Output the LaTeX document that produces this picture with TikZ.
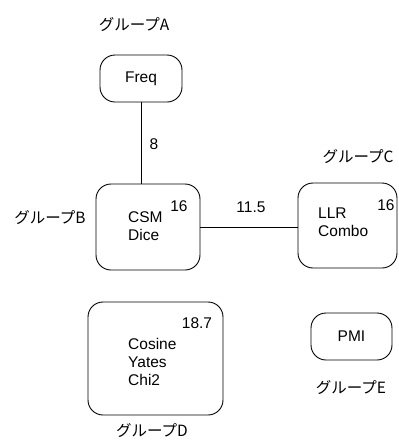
\documentclass[tikz,border=0pt]{standalone}
\usepackage{fontspec}
\setmainfont{Liberation Sans}
\newfontfamily\cjk{Noto Sans CJK JP}
\begin{document}
\begin{tikzpicture}[x=1pt,y=-1pt,
  every node/.style={font=\fontsize{15.5}{18}\selectfont, inner sep=0pt},
  grp/.style={draw, line width=0.9pt, rounded corners=15pt},
  conn/.style={line width=0.9pt}]
\useasboundingbox (0,0) rectangle (399,440);
% boxes
\node[grp, minimum width=82, minimum height=47] (freq) at (141,78.5) {Freq};
\node[grp, minimum width=104, minimum height=86] (csm) at (148,227) {};
\node[grp, minimum width=99, minimum height=85] (llr) at (347.5,225.5) {};
\node[grp, minimum width=135, minimum height=113] (dbox) at (155.5,358.5) {};
\node[grp, minimum width=81, minimum height=47] (pmi) at (351.5,336.5) {PMI};
% contents
\node[anchor=west, align=left] (csmtxt) at (128,226) {CSM\\Dice};
\node[anchor=west, align=left] (llrtxt) at (318,222) {LLR\\Combo};
\node[anchor=west, align=left] (dtxt) at (128,362) {Cosine\\Yates\\Chi2};
\node (csmn) at (179,206) {16};
\node (llrn) at (386,205) {16};
\node (dn) at (197,323) {18.7};
% group labels
\node (ga) at (134,25) {\cjk{グループ}A};
\node (gb) at (50,218) {\cjk{グループ}B};
\node (gc) at (358,157) {\cjk{グループ}C};
\node (gd) at (152,431) {\cjk{グループ}D};
\node (ge) at (351,388) {\cjk{グループ}E};
% connectors
\draw[conn] (freq.south) -- (freq.south |- csm.north);
\draw[conn] (csm.east) -- (csm.east -| llr.west);
\node (w8) at (154,144) {8};
\node (w115) at (251,207) {11.5};
\end{tikzpicture}
\end{document}
